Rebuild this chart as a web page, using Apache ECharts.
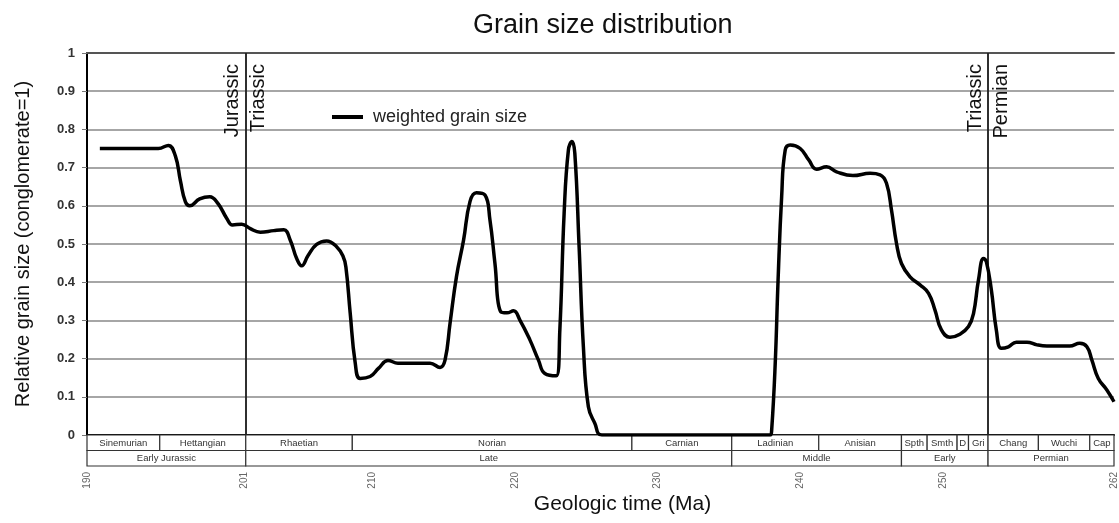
<!DOCTYPE html>
<html>
<head>
<meta charset="utf-8">
<title>Grain size distribution</title>
<script src="https://cdn.jsdelivr.net/npm/echarts@6/dist/echarts.min.js"></script>
<style>
  html, body { margin: 0; padding: 0; background: #fff; }
  #chart { width: 1119px; height: 523px; }
</style>
</head>
<body>
<div id="chart"></div>
<script>
// Weighted grain size through time (Ma), relative to conglomerate = 1
const ageMa = [
  190.9, 195.0, 195.7, 196.2, 196.55, 196.9, 197.2, 197.9, 198.6, 199.2,
  199.8, 200.2, 200.85, 201.45, 202.15, 203.1, 203.8, 204.25, 204.7, 205.05,
  205.5, 206.1, 206.8, 207.5, 207.95, 208.15, 208.45, 208.8, 209.15, 209.85,
  210.45, 211.1, 211.8, 214.05, 214.75, 215.1, 215.45, 215.9, 216.4, 216.85,
  217.3, 217.9, 218.25, 218.6, 219.0, 219.45, 219.9, 220.35, 221.05, 221.65,
  222.1, 222.9, 223.15, 223.45, 223.75, 224.0, 224.2, 224.5, 224.8, 225.15,
  225.6, 226.1, 237.9, 238.0, 238.25, 238.45, 238.7, 238.95, 239.3, 240.0,
  240.6, 241.15, 241.85, 242.55, 243.7, 244.9, 245.6, 246.05, 246.4, 246.75,
  247.1, 247.7, 248.4, 249.0, 249.45, 249.9, 250.5, 251.2, 251.8, 252.15,
  252.5, 252.85, 253.05, 253.4, 253.75, 254.1, 254.6, 255.15, 255.9, 256.6,
  257.3, 258.9, 259.6, 260.1, 260.45, 260.9, 261.5, 262.0
];
const grainSize = [
  0.75, 0.75, 0.758, 0.73, 0.665, 0.61, 0.60, 0.618, 0.624, 0.605,
  0.567, 0.55, 0.552, 0.54, 0.531, 0.535, 0.537, 0.51, 0.462, 0.443,
  0.47, 0.499, 0.508, 0.493, 0.468, 0.44, 0.32, 0.19, 0.148, 0.153,
  0.175, 0.195, 0.188, 0.188, 0.177, 0.196, 0.292, 0.414, 0.51, 0.611,
  0.634, 0.628, 0.563, 0.449, 0.323, 0.32, 0.325, 0.301, 0.249, 0.196,
  0.161, 0.155, 0.275, 0.58, 0.746, 0.768, 0.737, 0.493, 0.231, 0.074,
  0.031, 0, 0, 0.013, 0.188, 0.406, 0.624, 0.746, 0.759, 0.75,
  0.72, 0.696, 0.702, 0.689, 0.679, 0.685, 0.681, 0.659, 0.589, 0.502,
  0.449, 0.414, 0.393, 0.371, 0.327, 0.275, 0.256, 0.264, 0.284, 0.318,
  0.406, 0.462, 0.454, 0.38, 0.275, 0.227, 0.231, 0.243, 0.243, 0.236,
  0.233, 0.233, 0.24, 0.231, 0.196, 0.148, 0.118, 0.087
];

// Time-axis tick labels
const timeTicks = [190, 201, 210, 220, 230, 240, 250, 262];

// Period boundaries drawn as vertical lines
const boundaryAges = [201.13, 253.17];
const boundaryOlder = ['Triassic', 'Permian'];
const boundaryYounger = ['Jurassic', 'Triassic'];

// Stage strip (upper row)
const stageNames = ['Sinemurian', 'Hettangian', 'Rhaetian', 'Norian', 'Carnian', 'Ladinian',
  'Anisian', 'Spth', 'Smth', 'D', 'Gri', 'Chang', 'Wuchi', 'Cap'];
const stageStart = [190, 195.1, 201.13, 208.6, 228.2, 235.2, 241.3, 247.1, 248.9, 251.0, 251.8, 253.17, 256.7, 260.3];
const stageEnd = [195.1, 201.13, 208.6, 228.2, 235.2, 241.3, 247.1, 248.9, 251.0, 251.8, 253.17, 256.7, 260.3, 262];

// Epoch strip (lower row)
const epochNames = ['Early Jurassic', 'Late', 'Middle', 'Early', 'Permian'];
const epochStart = [190, 201.13, 235.2, 247.1, 253.17];
const epochEnd = [201.13, 235.2, 247.1, 253.17, 262];

const FONT = '"Liberation Sans", Arial, Helvetica, sans-serif';

const linePoints = ageMa.map((a, i) => [a, grainSize[i]]);

function bandRenderer(names, row) {
  return function (params, api) {
    const s = api.value(0), e = api.value(1);
    const p0 = api.coord([s, row + 1]);
    const p1 = api.coord([e, row]);
    const name = names[params.dataIndex];
    return {
      type: 'group',
      children: [
        {
          type: 'rect',
          shape: { x: p0[0], y: p0[1], width: p1[0] - p0[0], height: p1[1] - p0[1] },
          style: { fill: '#fff', stroke: '#333', lineWidth: 1.2 }
        },
        {
          type: 'text',
          style: {
            text: name, x: (p0[0] + p1[0]) / 2, y: (p0[1] + p1[1]) / 2 + 0.5,
            align: 'center', verticalAlign: 'middle',
            fontSize: 9.5, fontFamily: FONT, fill: '#333'
          }
        }
      ]
    };
  };
}

const boundaryMarks = [];
boundaryAges.forEach((age, i) => {
  boundaryMarks.push({ xAxis: age, label: { formatter: boundaryYounger[i], position: 'insideEndTop' } });
  boundaryMarks.push({ xAxis: age, label: { formatter: boundaryOlder[i], position: 'insideEndBottom' } });
});

const chart = echarts.init(document.getElementById('chart'), null, { renderer: 'canvas' });

chart.setOption({
  animation: false,
  backgroundColor: '#fff',
  textStyle: { fontFamily: FONT },
  title: {
    text: 'Grain size distribution',
    left: 468, top: 7,
    textStyle: { fontSize: 27, fontWeight: 'normal', color: '#111', fontFamily: FONT }
  },
  legend: {
    left: 327, top: 103,
    selectedMode: false,
    icon: 'rect', itemWidth: 31, itemHeight: 4,
    textStyle: { fontSize: 18, color: '#222', fontFamily: FONT, padding: [0, 0, 0, 5] },
    data: ['weighted grain size']
  },
  grid: [
    { left: 87, right: 5, top: 53, height: 382 },
    { left: 87, right: 5, top: 435, height: 31 }
  ],
  xAxis: [
    {
      type: 'value', gridIndex: 0, min: 190, max: 262,
      axisLine: { show: true, lineStyle: { color: '#000', width: 2 } },
      axisTick: { show: false }, axisLabel: { show: false }, splitLine: { show: false }
    },
    {
      type: 'value', gridIndex: 0, min: 190, max: 262, position: 'top',
      axisLine: { show: true, lineStyle: { color: '#555', width: 2 } },
      axisTick: { show: false }, axisLabel: { show: false }, splitLine: { show: false }
    },
    {
      type: 'value', gridIndex: 1, min: 190, max: 262,
      axisLine: { show: false }, axisTick: { show: false }, splitLine: { show: false },
      axisLabel: {
        customValues: timeTicks, rotate: 90, margin: 6,
        fontSize: 10, color: '#666', fontFamily: FONT,
        showMinLabel: true, showMaxLabel: true
      },
      name: 'Geologic time (Ma)', nameLocation: 'middle', nameGap: 28,
      nameTextStyle: { fontSize: 21, color: '#111', fontFamily: FONT, padding: [0, 0, 0, 44] }
    }
  ],
  yAxis: [
    {
      type: 'value', gridIndex: 0, min: 0, max: 1, interval: 0.1,
      axisLine: { show: true, lineStyle: { color: '#000', width: 2 } },
      axisTick: { show: true, length: 5, lineStyle: { color: '#777' } },
      axisLabel: { fontSize: 13, fontWeight: 'bold', color: '#333', margin: 12, fontFamily: FONT },
      splitLine: { show: true, lineStyle: { color: '#a6a6a6', width: 2 } },
      name: 'Relative grain size (conglomerate=1)', nameLocation: 'middle', nameGap: 54,
      nameTextStyle: { fontSize: 20, color: '#111', fontFamily: FONT }
    },
    {
      type: 'value', gridIndex: 1, min: 0, max: 2, show: false
    }
  ],
  series: [
    {
      name: 'weighted grain size',
      type: 'line',
      xAxisIndex: 0, yAxisIndex: 0,
      data: linePoints,
      showSymbol: false, symbol: 'none',
      smooth: 0.45,
      lineStyle: { color: '#000', width: 3.5 },
      itemStyle: { color: '#000' },
      z: 5,
      markLine: {
        silent: true, symbol: 'none',
        lineStyle: { color: '#222', width: 1.5, type: 'solid' },
        label: { fontSize: 20, color: '#111', fontFamily: FONT, distance: [11, 3] },
        data: boundaryMarks
      }
    },
    {
      type: 'custom', xAxisIndex: 2, yAxisIndex: 1,
      renderItem: bandRenderer(stageNames, 1),
      data: stageStart.map((s, i) => [s, stageEnd[i]]),
      silent: true
    },
    {
      type: 'custom', xAxisIndex: 2, yAxisIndex: 1,
      renderItem: bandRenderer(epochNames, 0),
      data: epochStart.map((s, i) => [s, epochEnd[i]]),
      silent: true
    }
  ]
});
</script>
</body>
</html>
